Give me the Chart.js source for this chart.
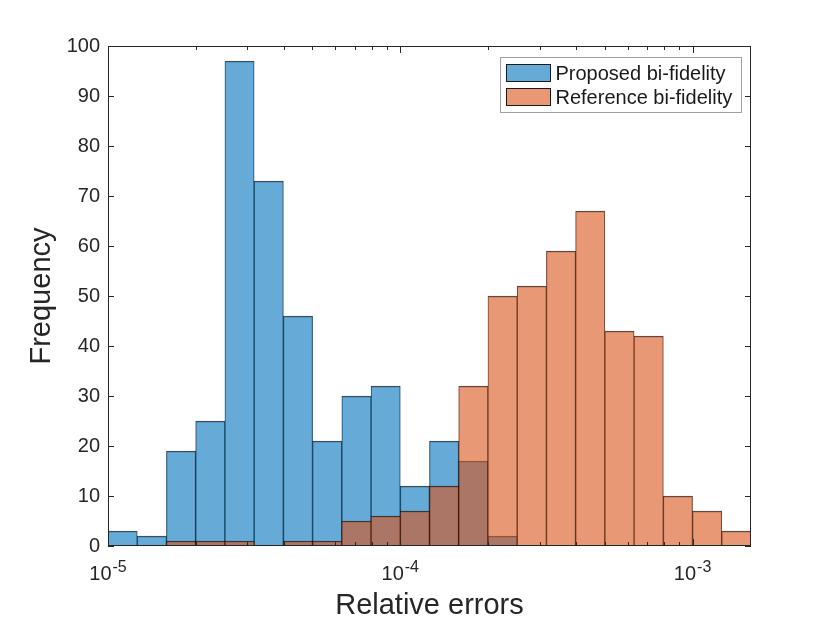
<!DOCTYPE html>
<html>
<head>
<meta charset="utf-8">
<script src="https://cdn.jsdelivr.net/npm/chart.js@4.4.1/dist/chart.umd.min.js"></script>
<style>
  html, body { margin: 0; padding: 0; background: #fff; }
</style>
</head>
<body>
<canvas id="hist" width="830" height="623"></canvas>
<script>
// bins: lower edge as log10(relative error), each bin 0.1 decade wide
const binStart = [-5.0, -4.9, -4.8, -4.7, -4.6, -4.5, -4.4, -4.3, -4.2, -4.1, -4.0,
                  -3.9, -3.8, -3.7, -3.6, -3.5, -3.4, -3.3, -3.2, -3.1, -3.0, -2.9];
const binWidth = 0.1;
const proposedCounts  = [3, 2, 19, 25, 97, 73, 46, 21, 30, 32, 12, 21, 17, 2, 0, 0, 0, 0, 0, 0, 0, 0];
const referenceCounts = [0, 0, 1, 1, 1, 0, 1, 1, 5, 6, 7, 12, 32, 50, 52, 59, 67, 43, 42, 10, 7, 3];
const seriesNames = ['Proposed bi-fidelity', 'Reference bi-fidelity'];
const xTickExp = [-5, -4, -3];
const xTickBase = '10';
const xTickPower = ['-5', '-4', '-3'];
const yTicks = [0, 10, 20, 30, 40, 50, 60, 70, 80, 90, 100];

const FONT = '"Liberation Sans", Arial, Helvetica, sans-serif';
const AXIS = '#262626';

const toPoints = counts => counts.map((c, i) => ({ x: binStart[i] + binWidth / 2, y: c }));

// box, inward ticks and 10^n labels (MATLAB style)
const axesBox = {
  id: 'axesBox',
  afterDatasetsDraw(chart) {
    const { ctx, chartArea: a, scales: { x, y } } = chart;
    ctx.save();
    ctx.strokeStyle = AXIS;
    ctx.lineWidth = 1;
    const line = (x1, y1, x2, y2) => { ctx.beginPath(); ctx.moveTo(x1, y1); ctx.lineTo(x2, y2); ctx.stroke(); };

    yTicks.forEach(v => {
      const py = Math.round(y.getPixelForValue(v)) + 0.5;
      line(a.left, py, a.left + 6, py);
      line(a.right, py, a.right - 6, py);
    });

    for (let e = -5; e <= -3; e++) {
      for (let k = 1; k <= 9; k++) {
        const v = e + Math.log10(k);
        if (v > x.max) continue;
        const len = k === 1 ? 7 : 4;
        const px = Math.round(x.getPixelForValue(v)) + 0.5;
        line(px, a.bottom, px, a.bottom - len);
        line(px, a.top, px, a.top + len);
      }
    }

    ctx.strokeRect(Math.round(a.left) + 0.5, Math.round(a.top) + 0.5,
                   Math.round(a.width) - 1, Math.round(a.height) - 1);

    // tick labels with raised exponent
    ctx.fillStyle = AXIS;
    ctx.textBaseline = 'alphabetic';
    ctx.textAlign = 'left';
    xTickExp.forEach((v, i) => {
      const px = x.getPixelForValue(v);
      ctx.font = '20px ' + FONT;
      const wb = ctx.measureText(xTickBase).width;
      ctx.font = '16px ' + FONT;
      const we = ctx.measureText(xTickPower[i]).width;
      const x0 = px - (wb + we + 1) / 2;
      ctx.font = '20px ' + FONT;
      ctx.fillText(xTickBase, x0, a.bottom + 34);
      ctx.font = '16px ' + FONT;
      ctx.fillText(xTickPower[i], x0 + wb + 1, a.bottom + 26);
    });
    ctx.restore();
  }
};

// legend box inside the axes, top right
const boxLegend = {
  id: 'boxLegend',
  afterDraw(chart) {
    const { ctx, chartArea: a } = chart;
    const ds = chart.data.datasets;
    ctx.save();
    ctx.font = '20px ' + FONT;
    const tw = Math.max(...seriesNames.map(s => ctx.measureText(s).width));
    const w = 6 + 44 + 6 + tw + 8;
    const right = a.right - 10;
    const left = right - w;
    const top = a.top + 11;
    const h = 55;
    ctx.fillStyle = '#fff';
    ctx.fillRect(left, top, w, h);
    ctx.strokeStyle = '#a0a0a0';
    ctx.lineWidth = 1;
    ctx.strokeRect(Math.round(left) + 0.5, top + 0.5, Math.round(w), h);

    [0, 1].forEach(i => {
      const cy = top + 16 + i * 24;
      const px = Math.round(left) + 6.5;
      ctx.fillStyle = ds[i].backgroundColor;
      ctx.fillRect(px, cy - 8.5, 44, 17);
      ctx.strokeStyle = '#1a1a1a';
      ctx.strokeRect(px, cy - 8.5, 44, 17);
      ctx.fillStyle = '#1a1a1a';
      ctx.textBaseline = 'middle';
      ctx.textAlign = 'left';
      ctx.fillText(ds[i].label, px + 49, cy + 1);
    });
    ctx.restore();
  }
};

new Chart(document.getElementById('hist'), {
  type: 'bar',
  data: {
    datasets: [
      {
        label: seriesNames[0],
        data: toPoints(proposedCounts),
        backgroundColor: 'rgba(0, 114, 189, 0.6)',
        borderColor: 'rgba(0, 0, 0, 0.72)',
        borderWidth: { top: 1, left: 0.5, right: 0.5, bottom: 0 },
        borderSkipped: false,
        grouped: false,
        barPercentage: 1,
        categoryPercentage: 1,
        order: 1
      },
      {
        label: seriesNames[1],
        data: toPoints(referenceCounts),
        backgroundColor: 'rgba(217, 83, 25, 0.6)',
        borderColor: 'rgba(0, 0, 0, 0.72)',
        borderWidth: { top: 1, left: 0.5, right: 0.5, bottom: 0 },
        borderSkipped: false,
        grouped: false,
        barPercentage: 1,
        categoryPercentage: 1,
        order: 0
      }
    ]
  },
  options: {
    responsive: false,
    animation: false,
    layout: { padding: { top: 46, right: 79, left: 0, bottom: 0 } },
    plugins: {
      legend: { display: false },
      tooltip: { enabled: false }
    },
    scales: {
      x: {
        type: 'linear',
        min: -5,
        max: -2.8,
        offset: false,
        grid: { display: false, drawTicks: false },
        border: { display: false },
        afterBuildTicks: axis => { axis.ticks = xTickExp.map(v => ({ value: v })); },
        afterFit: s => { s.height = 77; },
        ticks: { display: false },
        title: {
          display: true,
          text: 'Relative errors',
          color: AXIS,
          font: { family: FONT, size: 29 },
          padding: { top: 0, bottom: 0 }
        }
      },
      y: {
        min: 0,
        max: 100,
        grid: { display: false, drawTicks: false },
        border: { display: false },
        afterFit: s => { s.width = 108; },
        ticks: {
          stepSize: 10,
          padding: 8,
          color: AXIS,
          font: { family: FONT, size: 20 }
        },
        title: {
          display: true,
          text: 'Frequency',
          color: AXIS,
          font: { family: FONT, size: 29 },
          padding: { top: 25, bottom: 0 }
        }
      }
    }
  },
  plugins: [axesBox, boxLegend]
});
</script>
</body>
</html>
